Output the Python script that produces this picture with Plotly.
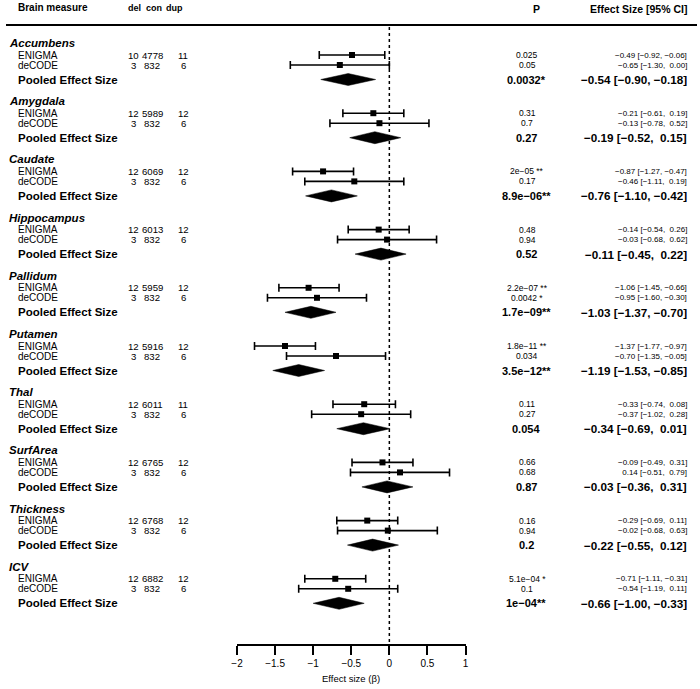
import plotly.graph_objects as go

# ---------------- data ----------------
groups = ["Accumbens", "Amygdala", "Caudate", "Hippocampus", "Pallidum",
          "Putamen", "Thal", "SurfArea", "Thickness", "ICV"]
study_labels = ["ENIGMA", "deCODE"]
pooled_label = "Pooled Effect Size"

enigma_del = [10, 12, 12, 12, 12, 12, 12, 12, 12, 12]
enigma_con = [4778, 5989, 6069, 6013, 5959, 5916, 6011, 6765, 6768, 6882]
enigma_dup = [11, 12, 12, 12, 12, 12, 11, 12, 12, 12]
decode_del = [3, 3, 3, 3, 3, 3, 3, 3, 3, 3]
decode_con = [832, 832, 832, 832, 832, 832, 832, 832, 832, 832]
decode_dup = [6, 6, 6, 6, 6, 6, 6, 6, 6, 6]

enigma_est = [-0.49, -0.21, -0.87, -0.14, -1.06, -1.37, -0.33, -0.09, -0.29, -0.71]
enigma_lo = [-0.92, -0.61, -1.27, -0.54, -1.45, -1.77, -0.74, -0.49, -0.69, -1.11]
enigma_hi = [-0.06, 0.19, -0.47, 0.26, -0.66, -0.97, 0.08, 0.31, 0.11, -0.31]
decode_est = [-0.65, -0.13, -0.46, -0.03, -0.95, -0.70, -0.37, 0.14, -0.02, -0.54]
decode_lo = [-1.30, -0.78, -1.11, -0.68, -1.60, -1.35, -1.02, -0.51, -0.68, -1.19]
decode_hi = [0.00, 0.52, 0.19, 0.62, -0.30, -0.05, 0.28, 0.79, 0.63, 0.11]
pooled_est = [-0.54, -0.19, -0.76, -0.11, -1.03, -1.19, -0.34, -0.03, -0.22, -0.66]
pooled_lo = [-0.90, -0.52, -1.10, -0.45, -1.37, -1.53, -0.69, -0.36, -0.55, -1.00]
pooled_hi = [-0.18, 0.15, -0.42, 0.22, -0.70, -0.85, 0.01, 0.31, 0.12, -0.33]

enigma_p = ["0.025", "0.31", "2e−05 **", "0.48", "2.2e−07 **", "1.8e−11 **",
            "0.11", "0.66", "0.16", "5.1e−04 *"]
decode_p = ["0.05", "0.7", "0.17", "0.94", "0.0042 *", "0.034",
            "0.27", "0.68", "0.94", "0.1"]
pooled_p = ["0.0032*", "0.27", "8.9e−06**", "0.52", "1.7e−09**", "3.5e−12**",
            "0.054", "0.87", "0.2", "1e−04**"]

x_tick_vals = [-2, -1.5, -1, -0.5, 0, 0.5, 1]
header_labels = ["Brain measure", "del", "con", "dup", "P", "Effect Size [95% CI]"]
x_title = "Effect size (β)"

# ---------------- layout helpers ----------------
W, H = 700, 689
FONT = "Liberation Sans, Arial, Helvetica, sans-serif"
AX_L, AX_R = 234, 465.5      # pixel extent of the effect-size axis
AX_Y = 644                   # pixel row of the axis line
BLOCK0, BLOCK_STEP = 43, 58.2
OFF_E, OFF_D, OFF_P = 12, 22, 36.5
PAD = 2                      # annotation border + pad


def px(x):
    return x / W


def fmt(v):
    return f"{v:5.2f}".replace("-", "−")


def ci_text(e, l, h):
    return f"{fmt(e)} [{fmt(l)}, {fmt(h)}]"


fig = go.Figure()
ann = []


def txt(x, y, s, size, bold=False, italic=False, anchor="left"):
    if bold:
        s = f"<b>{s}</b>"
    if italic:
        s = f"<i>{s}</i>"
    if anchor == "left":
        x -= PAD
    elif anchor == "right":
        x += PAD
    ann.append(dict(x=px(x), y=y, xref="paper", yref="y", text=s, showarrow=False,
                    xanchor=anchor, yanchor="middle",
                    font=dict(family=FONT, size=size, color="black")))


# headers
txt(12, 7, header_labels[0], 10, bold=True)
txt(130, 7.5, header_labels[1], 9, bold=True, anchor="center")
txt(150, 7.5, header_labels[2], 9, bold=True, anchor="center")
txt(170.5, 7.5, header_labels[3], 9, bold=True, anchor="center")
txt(537, 9, header_labels[4], 10.5, bold=True, anchor="center")
txt(690, 9, header_labels[5], 10.5, bold=True, anchor="right")

e_y, d_y, p_y = [], [], []
for i, g in enumerate(groups):
    top = BLOCK0 + BLOCK_STEP * i
    ye, yd, yp = top + OFF_E, top + OFF_D, top + OFF_P
    e_y.append(ye); d_y.append(yd); p_y.append(yp)
    txt(3, top, g, 11.5, bold=True, italic=True)
    txt(12, ye, study_labels[0], 10)
    txt(12, yd, study_labels[1], 10)
    txt(12, yp, pooled_label, 11.5, bold=True)
    for (y, dl, cn, dp) in [(ye, enigma_del[i], enigma_con[i], enigma_dup[i]),
                             (yd, decode_del[i], decode_con[i], decode_dup[i])]:
        txt(129.5, y, str(dl), 9.6, anchor="center")
        txt(148, y, str(cn), 9.6, anchor="center")
        txt(179.5, y, str(dp), 9.6, anchor="center")
    txt(528, ye, enigma_p[i], 8.5, anchor="center")
    txt(528, yd, decode_p[i], 8.5, anchor="center")
    txt(527, yp, pooled_p[i], 11, bold=True, anchor="center")
    txt(690, ye, ci_text(enigma_est[i], enigma_lo[i], enigma_hi[i]), 8, anchor="right")
    txt(690, yd, ci_text(decode_est[i], decode_lo[i], decode_hi[i]), 8, anchor="right")
    txt(690, yp, ci_text(pooled_est[i], pooled_lo[i], pooled_hi[i]), 11.7, bold=True, anchor="right")

# study estimates with CIs
for est, lo, hi, ys in [(enigma_est, enigma_lo, enigma_hi, e_y),
                        (decode_est, decode_lo, decode_hi, d_y)]:
    fig.add_trace(go.Scatter(
        x=est, y=ys, mode="markers",
        marker=dict(symbol="square", size=6, color="black"),
        error_x=dict(type="data", symmetric=False,
                     array=[h - e for h, e in zip(hi, est)],
                     arrayminus=[e - l for e, l in zip(est, lo)],
                     color="black", thickness=1.6, width=4),
        showlegend=False, hoverinfo="skip", cliponaxis=False))

# pooled diamonds
DH = 6
for e, l, h, y in zip(pooled_est, pooled_lo, pooled_hi, p_y):
    fig.add_trace(go.Scatter(
        x=[l, e, h, e, l], y=[y, y - DH, y, y + DH, y], mode="lines",
        fill="toself", fillcolor="black", line=dict(color="black", width=0.5),
        showlegend=False, hoverinfo="skip"))

shapes = [
    dict(type="line", xref="paper", yref="y", x0=0, x1=1, y0=25, y1=25,
         line=dict(color="black", width=2)),
    dict(type="line", xref="x", yref="y", x0=0, x1=0, y0=27, y1=AX_Y,
         line=dict(color="black", width=1.5, dash="dot")),
]

ann.append(dict(x=px((AX_L + AX_R) / 2), y=(H - 678) / H, xref="paper", yref="paper",
                text=x_title, showarrow=False, xanchor="center", yanchor="middle",
                font=dict(family=FONT, size=9.5, color="black")))

fig.update_layout(
    width=W, height=H, margin=dict(l=0, r=0, t=0, b=0),
    paper_bgcolor="white", plot_bgcolor="white",
    showlegend=False, annotations=ann, shapes=shapes,
    xaxis=dict(domain=[AX_L / W, AX_R / W], range=[-2, 1],
               showline=True, linecolor="black", linewidth=2,
               ticks="outside", ticklen=9, tickwidth=2, tickcolor="black",
               tickvals=x_tick_vals,
               ticktext=[f"{v:g}".replace("-", "−") for v in x_tick_vals],
               tickfont=dict(family=FONT, size=10, color="black"),
               showgrid=False, zeroline=False, fixedrange=True),
    yaxis=dict(domain=[(H - AX_Y) / H, 1], range=[AX_Y, 0], visible=False,
               showgrid=False, zeroline=False, fixedrange=True),
)

fig.write_html("out.html", config={"displayModeBar": False},
               post_script="document.body.style.margin='0px';")
